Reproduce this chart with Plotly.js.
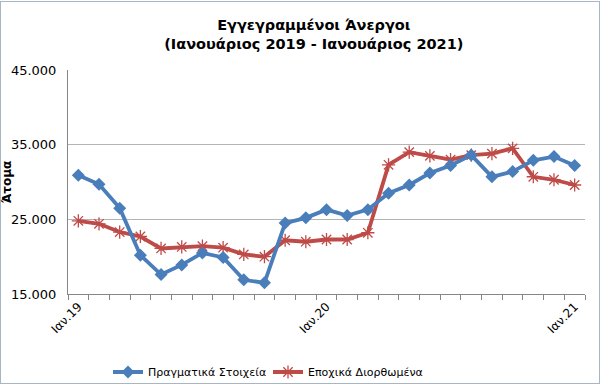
<!DOCTYPE html>
<html>
<head>
<meta charset="utf-8">
<script src="https://cdn.plot.ly/plotly-3.0.1.min.js"></script>
<style>
  html, body { margin: 0; padding: 0; background: #ffffff; }
  #frame { position: absolute; left: 0; top: 1px; width: 600px; height: 383px; box-sizing: border-box; border: 1px solid #a6b6c6; }
  #chart { position: absolute; left: 0; top: 0; width: 600px; height: 388px; }
</style>
</head>
<body>
<div id="frame"></div>
<div id="chart"></div>
<script>
const months = ['Ιαν.19','Φεβ.19','Μαρ.19','Απρ.19','Μαϊ.19','Ιουν.19','Ιουλ.19','Αυγ.19','Σεπ.19','Οκτ.19','Νοε.19','Δεκ.19',
                'Ιαν.20','Φεβ.20','Μαρ.20','Απρ.20','Μαϊ.20','Ιουν.20','Ιουλ.20','Αυγ.20','Σεπ.20','Οκτ.20','Νοε.20','Δεκ.20',
                'Ιαν.21'];
const actual   = [30900, 29700, 26500, 20200, 17600, 18900, 20500, 19900, 16900, 16500, 24500, 25200,
                  26300, 25500, 26300, 28500, 29600, 31200, 32200, 33600, 30700, 31400, 32900, 33400,
                  32200];
const seasonal = [24800, 24400, 23300, 22700, 21100, 21300, 21400, 21200, 20300, 20000, 22200, 22000,
                  22300, 22300, 23200, 32300, 34000, 33500, 33000, 33600, 33800, 34500, 30700, 30300,
                  29600];
const tickLabels = ['Ιαν.19','Ιαν.20','Ιαν.21'];
const seriesNames = ['Πραγματικά Στοιχεία','Εποχικά Διορθωμένα'];
const yTicks = [15000, 25000, 35000, 45000];

const xIdx = months.map((m, i) => i);
const boundaries = months.map((m, i) => i - 0.5).concat([months.length - 0.5]);

const blue = '#4a7ebb';
const red = '#be4b48';

const traces = [
  {
    x: xIdx, y: seasonal, name: seriesNames[1], type: 'scatter', mode: 'lines+markers',
    line: { color: red, width: 3.8 },
    marker: { symbol: 'asterisk-open', size: 11, color: red, line: { color: red, width: 1.3 } }
  },
  {
    x: xIdx, y: actual, name: seriesNames[0], type: 'scatter', mode: 'lines+markers',
    line: { color: blue, width: 3.8 },
    marker: { symbol: 'diamond', size: 10, color: blue }
  }
];

const layout = {
  width: 600, height: 388,
  paper_bgcolor: 'rgba(0,0,0,0)', plot_bgcolor: 'rgba(0,0,0,0)',
  margin: { l: 68, r: 15, t: 70, b: 94, autoexpand: false },
  separators: ',.',
  showlegend: true,
  title: {
    text: '<b>Εγγεγραμμένοι Άνεργοι<br>(Ιανουάριος 2019 - Ιανουάριος 2021)</b>',
    font: { family: 'DejaVu Sans', size: 14.5, color: '#000000' },
    x: 0.523, xanchor: 'center', xref: 'container',
    y: 1 - 30 / 388, yanchor: 'top', yref: 'container'
  },
  xaxis: {
    range: [-0.5, months.length - 0.5],
    automargin: false,
    tickmode: 'array',
    tickvals: tickLabels.map(t => months.indexOf(t)),
    ticktext: tickLabels,
    tickangle: -45,
    ticks: '',
    tickfont: { family: 'DejaVu Sans', size: 12, color: '#000000' },
    showgrid: false, zeroline: false,
    showline: true, linecolor: '#868686', linewidth: 1,
    minor: { tickmode: 'array', tickvals: boundaries, ticks: 'outside', ticklen: 5, tickcolor: '#868686', tickwidth: 1, showgrid: false }
  },
  yaxis: {
    range: [15000, 45000],
    automargin: false,
    tickmode: 'array', tickvals: yTicks,
    tickformat: ',.0f',
    ticks: '', ticklabelstandoff: 8,
    tickfont: { family: 'DejaVu Sans', size: 13, color: '#000000' },
    showgrid: true, gridcolor: '#b4b4b4', gridwidth: 1,
    zeroline: false,
    showline: true, linecolor: '#868686', linewidth: 1,
    title: { text: '<b>Άτομα</b>', font: { family: 'DejaVu Sans', size: 12, color: '#000000' }, standoff: 2 }
  },
  legend: {
    orientation: 'h', traceorder: 'reversed',
    x: (108 - 68) / 517, xanchor: 'left',
    y: (294 - 372) / 224, yanchor: 'middle',
    font: { family: 'DejaVu Sans', size: 11, color: '#000000' },
    entrywidth: 115, entrywidthmode: 'pixels',
    bgcolor: 'rgba(0,0,0,0)'
  },
  hovermode: false
};

Plotly.newPlot('chart', traces, layout, { staticPlot: true, displayModeBar: false });
</script>
</body>
</html>
